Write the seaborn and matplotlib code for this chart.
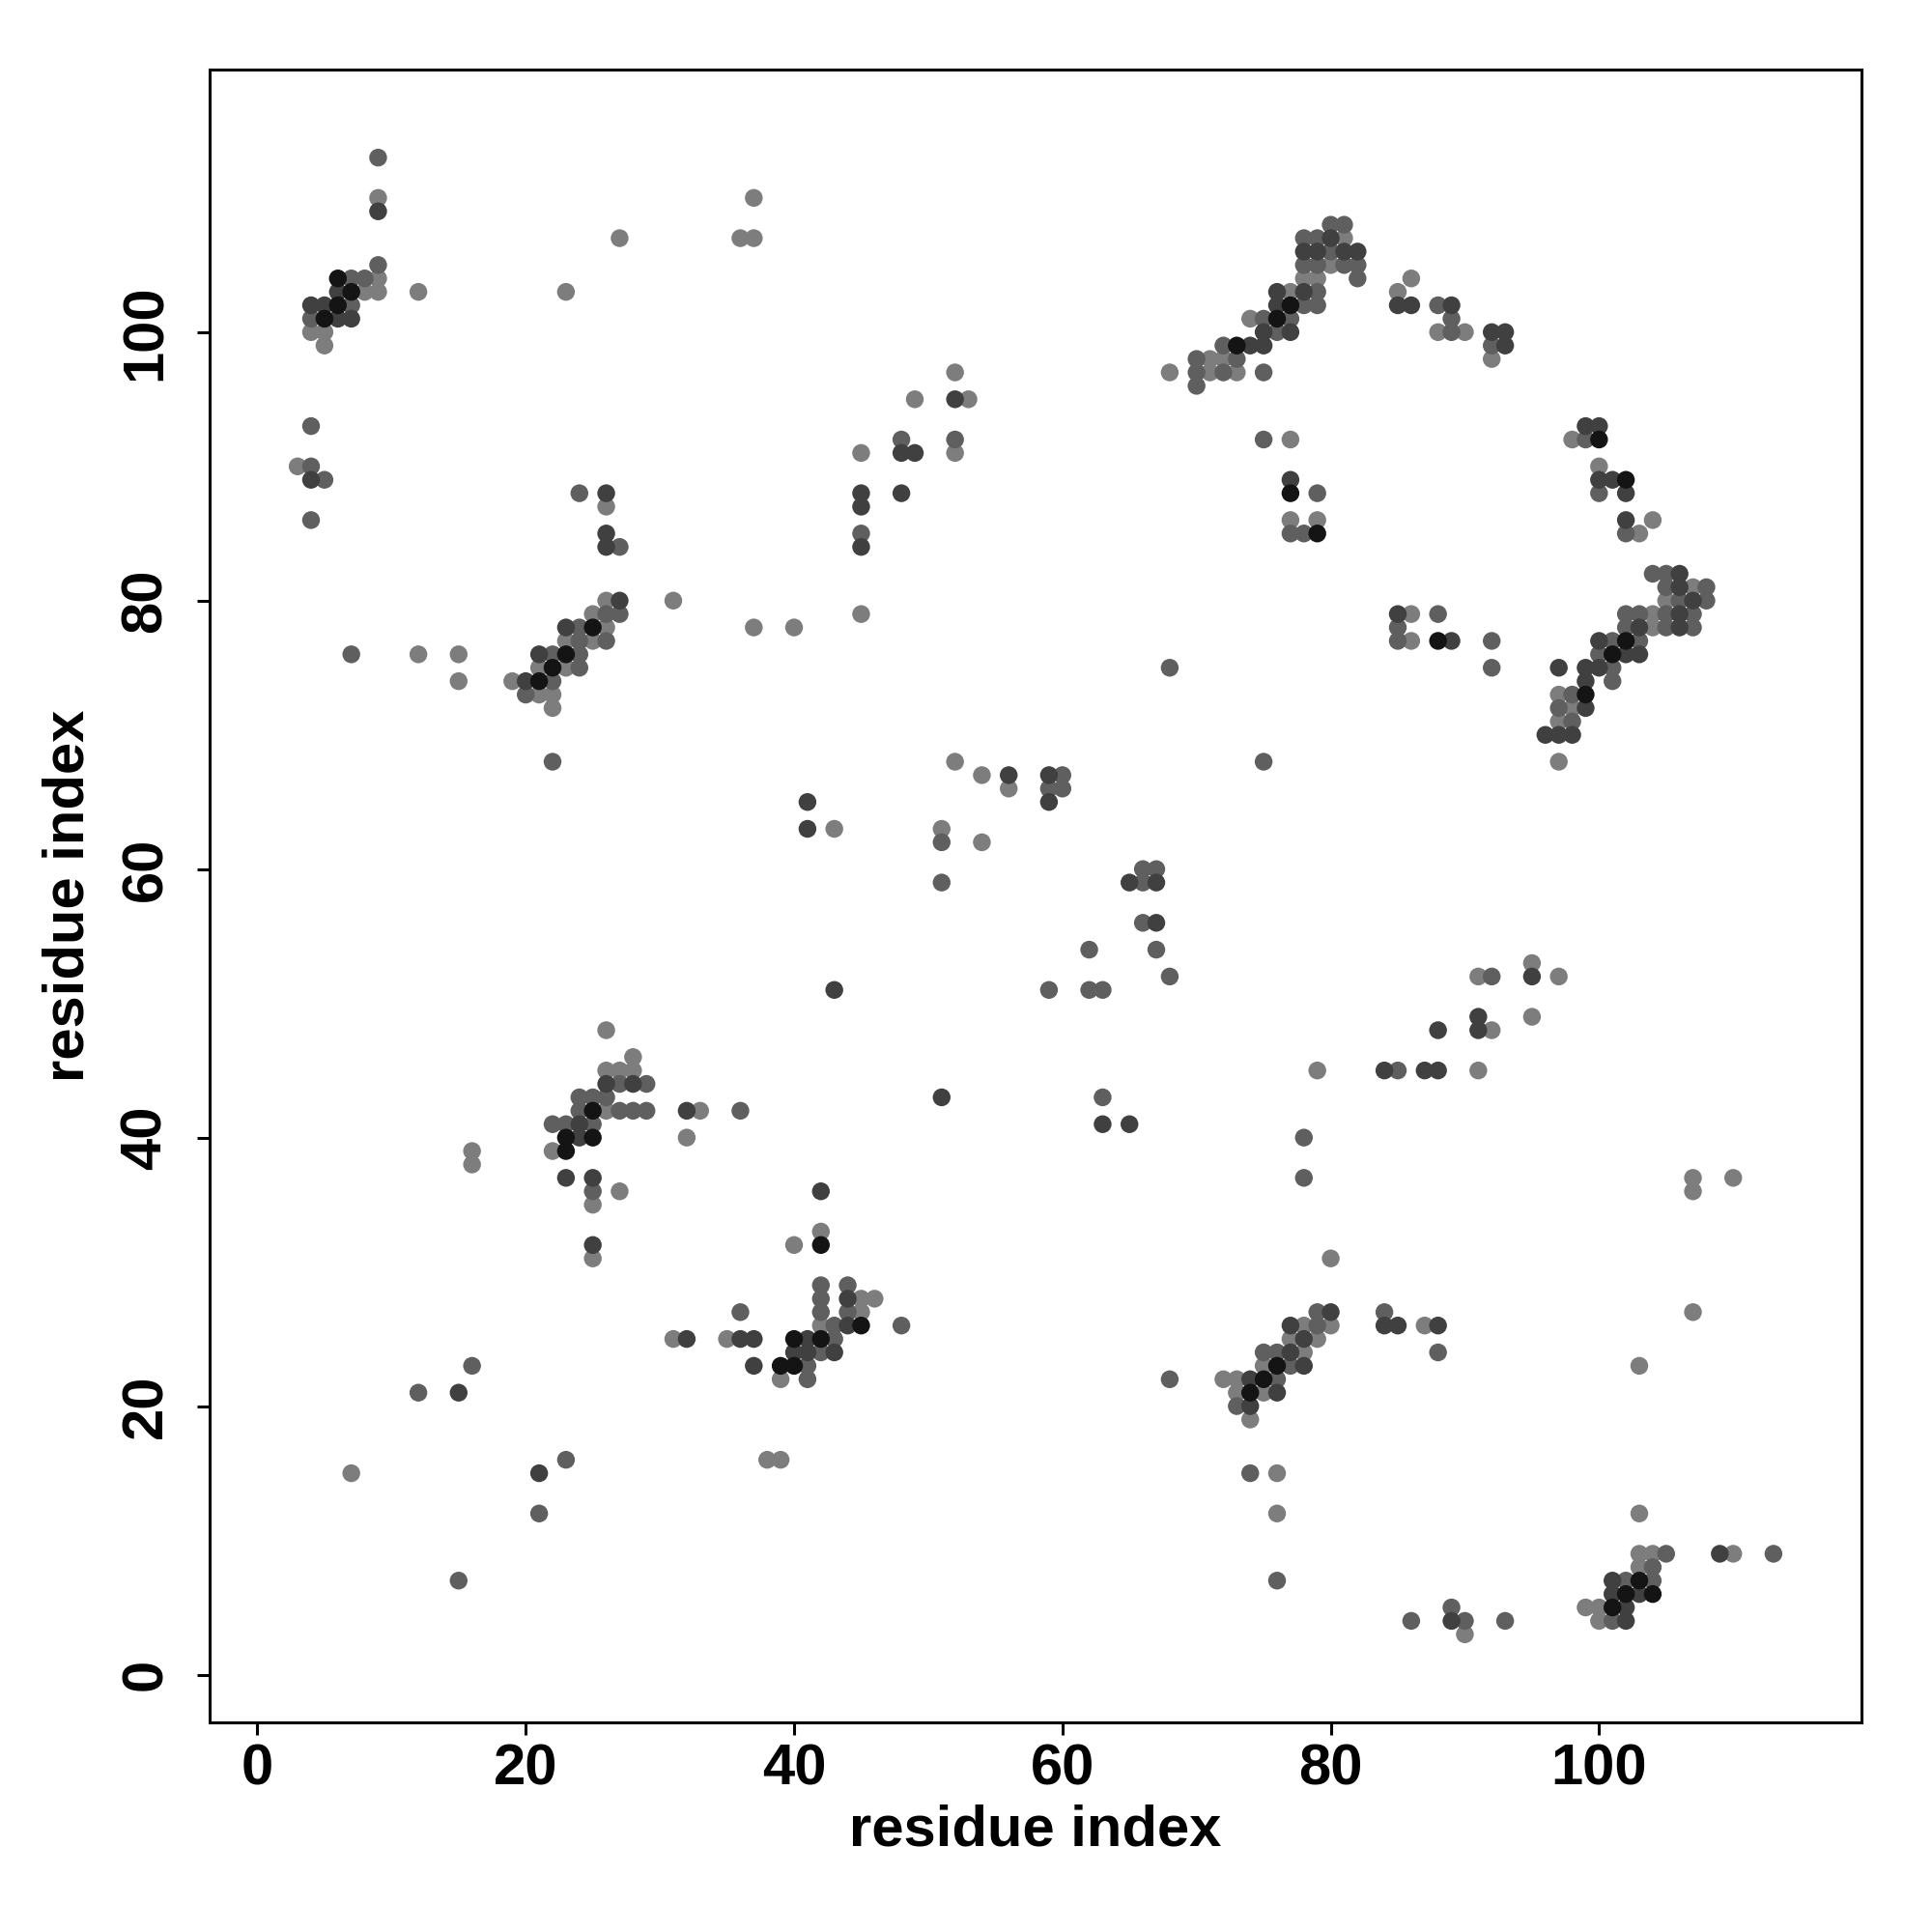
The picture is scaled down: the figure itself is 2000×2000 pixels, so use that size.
import matplotlib
matplotlib.use("Agg")
import matplotlib.pyplot as plt
import seaborn as sns
import pandas as pd

# contact map: residue pairs (x, y) and a darkness level 1 (light) .. 4 (black)

# top-left block
a_x = [9, 9, 9, 9, 27, 6, 7, 8, 9, 6, 7, 8, 9, 12, 23, 4, 5, 6, 7, 4, 5, 6, 7, 4, 5, 5, 4, 3, 4, 4, 5, 4]
a_y = [113, 110, 109, 105, 107, 104, 104, 104, 104, 103, 103, 103, 103, 103, 103, 102, 102, 102, 102,
       101, 101, 101, 101, 100, 100, 99, 93, 90, 90, 89, 89, 86]
a_l = [2, 1, 3, 2, 1, 4, 2, 2, 1, 3, 4, 1, 1, 1, 1, 3, 3, 4, 2, 2, 4, 3, 3, 1, 1, 1, 2, 1, 2, 3, 2, 2]

# strand 20-27 / 72-88
b_x = [24, 26, 26, 26, 26, 27, 26, 27, 25, 26, 27, 23, 24, 25, 26, 23, 24, 25, 26, 21, 22, 23, 24,
       21, 22, 23, 24, 19, 20, 21, 22, 20, 21, 22, 22, 22, 7, 12, 15, 15]
b_y = [88, 88, 87, 85, 84, 84, 80, 80, 79, 79, 79, 78, 78, 78, 78, 77, 77, 77, 77, 76, 76, 76, 76,
       75, 75, 75, 75, 74, 74, 74, 74, 73, 73, 73, 72, 68, 76, 76, 76, 74]
b_l = [2, 3, 1, 3, 3, 2, 1, 3, 1, 2, 2, 3, 2, 4, 1, 1, 2, 1, 2, 3, 2, 4, 2,
       1, 4, 1, 2, 1, 3, 4, 2, 2, 1, 1, 1, 2, 2, 1, 1, 1]

# block 22-36 / 31-48
c_x = [26, 28, 26, 27, 28, 26, 27, 28, 29, 24, 25, 26, 24, 25, 26, 27, 28, 29, 22, 23, 24, 25,
       23, 24, 25, 22, 23, 23, 25, 25, 27, 25, 25, 25, 16, 16, 32, 33, 36, 32]
c_y = [48, 46, 45, 45, 45, 44, 44, 44, 44, 43, 43, 43, 42, 42, 42, 42, 42, 42, 41, 41, 41, 41,
       40, 40, 40, 39, 39, 37, 37, 36, 36, 35, 32, 31, 39, 38, 42, 42, 42, 40]
c_l = [1, 1, 1, 1, 1, 3, 2, 3, 2, 2, 2, 2, 2, 4, 1, 2, 2, 2, 2, 2, 3, 2,
       4, 3, 4, 1, 4, 3, 3, 2, 1, 1, 3, 1, 1, 1, 3, 1, 2, 1]

# lower-left scatter
d_x = [16, 12, 15, 23, 7, 21, 21, 15]
d_y = [23, 21, 21, 16, 15, 15, 12, 7]
d_l = [2, 2, 3, 2, 1, 3, 2, 2]

# block 31-48 / 16-36
e_x = [42, 42, 40, 42, 42, 44, 42, 44, 45, 46, 36, 42, 44, 45, 42, 43, 44, 45, 48,
       31, 32, 35, 36, 37, 40, 41, 42, 43, 40, 41, 42, 43, 37, 39, 40, 41, 39, 41, 38, 39]
e_y = [36, 33, 32, 32, 29, 29, 28, 28, 28, 28, 27, 27, 27, 27, 26, 26, 26, 26, 26,
       25, 25, 25, 25, 25, 25, 25, 25, 25, 24, 24, 24, 24, 23, 23, 23, 23, 22, 22, 16, 16]
e_l = [3, 1, 1, 4, 2, 2, 2, 3, 1, 1, 2, 2, 2, 1, 1, 2, 3, 4, 2,
       1, 3, 1, 3, 3, 4, 3, 4, 2, 3, 3, 2, 3, 3, 4, 4, 2, 1, 2, 1, 1]

# middle column 31-60
f_x = [37, 36, 37, 52, 49, 52, 53, 48, 52, 45, 48, 49, 52, 45, 48, 45, 45, 45, 45, 31, 37, 40,
       52, 54, 56, 56, 59, 60, 59, 60, 59, 41, 41, 43, 51, 51, 54, 51, 43, 59, 51]
f_y = [110, 107, 107, 97, 95, 95, 95, 92, 92, 91, 91, 91, 91, 88, 88, 87, 85, 84, 79, 80, 78, 78,
       68, 67, 67, 66, 67, 67, 66, 66, 65, 65, 63, 63, 63, 62, 62, 59, 51, 51, 43]
f_l = [1, 1, 1, 1, 1, 3, 1, 2, 2, 1, 3, 3, 1, 3, 3, 3, 2, 3, 1, 1, 1, 1,
       1, 1, 3, 1, 3, 2, 2, 2, 3, 3, 3, 1, 1, 2, 1, 2, 3, 2, 3]

# middle 62-75
g_x = [66, 67, 65, 66, 67, 66, 67, 62, 67, 68, 62, 63, 63, 63, 65, 68, 75]
g_y = [60, 60, 59, 59, 59, 56, 56, 54, 54, 52, 51, 51, 43, 41, 41, 75, 68]
g_l = [2, 2, 3, 2, 3, 2, 3, 2, 2, 2, 2, 2, 2, 3, 3, 2, 2]

# top-right strand 68-90 / 96-108
h_x = [80, 81, 78, 79, 80, 81, 78, 79, 80, 81, 82, 78, 79, 80, 81, 82, 78, 79, 82,
       76, 77, 78, 79, 76, 77, 78, 79, 74, 75, 76, 77, 75, 76, 77, 72, 73, 74, 75,
       70, 71, 72, 73, 68, 70, 71, 72, 73, 75, 70,
       86, 85, 85, 86, 88, 89, 89, 88, 89, 90]
h_y = [108, 108, 107, 107, 107, 107, 106, 106, 106, 106, 106, 105, 105, 105, 105, 105, 104, 104, 104,
       103, 103, 103, 103, 102, 102, 102, 102, 101, 101, 101, 101, 100, 100, 100, 99, 99, 99, 99,
       98, 98, 98, 98, 97, 97, 97, 97, 97, 97, 96,
       104, 103, 102, 102, 102, 102, 101, 100, 100, 100]
h_l = [2, 2, 2, 2, 3, 1, 3, 3, 2, 3, 3, 2, 2, 1, 2, 2, 1, 1, 2,
       3, 1, 3, 2, 3, 4, 2, 2, 1, 2, 4, 2, 3, 2, 3, 2, 4, 3, 3,
       2, 1, 1, 2, 1, 2, 1, 2, 1, 2, 2,
       1, 1, 3, 3, 2, 3, 2, 1, 2, 1]

# 75-92 / 75-92
i_x = [75, 77, 77, 77, 79, 77, 79, 77, 78, 79, 85, 86, 88, 85, 85, 86, 88, 89, 92, 92]
i_y = [92, 92, 89, 88, 88, 86, 86, 85, 85, 85, 79, 79, 79, 78, 77, 77, 77, 77, 77, 75]
i_l = [2, 1, 3, 4, 2, 1, 1, 2, 2, 4, 3, 1, 2, 2, 2, 1, 4, 3, 2, 2]

# right strand 92-108 / 78-100
k_x = [92, 93, 92, 93, 92, 98, 99, 100, 99, 100, 100, 100, 101, 102, 100, 102, 102, 104, 102, 103,
       104, 105, 106, 105, 106, 107, 108, 105, 106, 107, 108,
       102, 103, 104, 105, 106, 107, 102, 103, 104, 105, 106, 107]
k_y = [100, 100, 99, 99, 98, 92, 93, 93, 92, 92, 90, 89, 89, 89, 88, 88, 86, 86, 85, 85,
       82, 82, 82, 81, 81, 81, 81, 80, 80, 80, 80,
       79, 79, 79, 79, 79, 79, 78, 78, 78, 78, 78, 78]
k_l = [3, 3, 2, 3, 1, 1, 3, 3, 2, 4, 1, 3, 3, 4, 2, 3, 3, 1, 2, 1,
       2, 2, 3, 2, 3, 1, 2, 1, 2, 3, 2,
       2, 2, 1, 2, 3, 2, 2, 3, 1, 2, 3, 2]

# strand 96-103 / 68-77
m_x = [97, 100, 101, 102, 103, 100, 101, 102, 103, 99, 100, 101, 99, 101,
       97, 98, 99, 97, 98, 99, 97, 98, 96, 97, 98, 97]
m_y = [75, 77, 77, 77, 77, 76, 76, 76, 76, 75, 75, 75, 74, 74,
       73, 73, 73, 72, 72, 72, 71, 71, 70, 70, 70, 68]
m_l = [3, 3, 2, 4, 2, 2, 4, 3, 3, 3, 3, 2, 3, 2,
       1, 2, 4, 2, 1, 3, 1, 2, 3, 3, 3, 1]

# 78-97 / 37-53
n_x = [88, 79, 84, 85, 87, 88, 78, 78, 91, 92, 95, 95, 97, 91, 91, 92, 95, 91]
n_y = [48, 45, 45, 45, 45, 45, 40, 37, 52, 52, 53, 52, 52, 49, 48, 48, 49, 45]
n_l = [3, 1, 3, 2, 3, 3, 2, 2, 1, 2, 1, 3, 1, 3, 3, 1, 1, 1]

# strand 68-90 / 3-31
p_x = [80, 79, 80, 84, 77, 78, 79, 80, 84, 85, 87, 88, 88, 77, 78, 79, 75, 76, 77, 78,
       75, 76, 77, 78, 68, 72, 73, 74, 75, 76, 73, 74, 75, 76, 73, 74, 74,
       74, 76, 76, 76, 86, 89, 89, 90, 90]
p_y = [31, 27, 27, 27, 26, 26, 26, 26, 26, 26, 26, 26, 24, 25, 25, 25, 24, 24, 24, 24,
       23, 23, 23, 23, 22, 22, 22, 22, 22, 22, 21, 21, 21, 21, 20, 20, 19,
       15, 15, 12, 7, 4, 5, 4, 4, 3]
p_l = [1, 2, 3, 2, 3, 1, 2, 1, 3, 3, 1, 3, 2, 1, 3, 1, 2, 2, 3, 1,
       1, 4, 2, 3, 2, 1, 1, 3, 4, 2, 1, 4, 1, 3, 2, 3, 1,
       2, 1, 1, 2, 2, 2, 3, 2, 1]

# bottom-right 93-113 / 4-37
q_x = [107, 110, 107, 107, 103, 103, 103, 104, 105, 109, 110, 113, 103, 104,
       101, 102, 103, 104, 101, 102, 103, 104, 99, 100, 101, 102, 100, 101, 102, 93]
q_y = [37, 37, 36, 27, 23, 12, 9, 9, 9, 9, 9, 9, 8, 8,
       7, 7, 7, 7, 6, 6, 6, 6, 5, 5, 5, 5, 4, 4, 4, 4]
q_l = [1, 1, 1, 1, 1, 1, 1, 1, 2, 3, 1, 2, 1, 2,
       3, 2, 4, 2, 3, 4, 3, 4, 1, 1, 4, 3, 1, 2, 3, 2]

xs = [a_x, b_x, c_x, d_x, e_x, f_x, g_x, h_x, i_x, k_x, m_x, n_x, p_x, q_x]
ys = [a_y, b_y, c_y, d_y, e_y, f_y, g_y, h_y, i_y, k_y, m_y, n_y, p_y, q_y]
ls = [a_l, b_l, c_l, d_l, e_l, f_l, g_l, h_l, i_l, k_l, m_l, n_l, p_l, q_l]

df = pd.DataFrame({
    "i": sum(xs, []),
    "j": sum(ys, []),
    "level": sum(ls, []),
})
df = df.sort_values("level")

sns.set_style("white")
plt.rcParams["font.family"] = ["Liberation Sans", "DejaVu Sans"]
plt.rcParams["font.weight"] = "bold"
plt.rcParams["text.color"] = "black"
plt.rcParams["axes.labelcolor"] = "black"
plt.rcParams["xtick.color"] = "black"
plt.rcParams["ytick.color"] = "black"

greys = {1: "#7d7d7d", 2: "#5f5f5f", 3: "#404040", 4: "#141414"}

fig = plt.figure(figsize=(10, 10), dpi=200)
ax = fig.add_axes([0.1085, 0.1085, 0.855, 0.8555])
sns.scatterplot(data=df, x="i", y="j", hue="level", palette=greys,
                s=44, linewidth=0, legend=False, ax=ax)

ax.set_xlim(-3.56, 119.56)
ax.set_ylim(-3.56, 119.56)
ticks = [0, 20, 40, 60, 80, 100]
ax.set_xticks(ticks)
ax.set_yticks(ticks)
ax.tick_params(direction="out", length=4.7, width=1.1, labelsize=21.5,
               colors="black", bottom=True, left=True, top=False, right=False, pad=3)
ax.tick_params(axis="y", pad=9)
for lab in ax.get_yticklabels():
    lab.set_rotation(90)
    lab.set_va("center")
for sp in ax.spines.values():
    sp.set_visible(True)
    sp.set_color("black")
    sp.set_linewidth(1.1)

ax.set_xlabel("residue index", fontsize=21.5, fontweight="bold", labelpad=3, color="black")
ax.set_ylabel("residue index", fontsize=21.5, fontweight="bold", labelpad=9, color="black")

fig.savefig("out.png", dpi=200)
